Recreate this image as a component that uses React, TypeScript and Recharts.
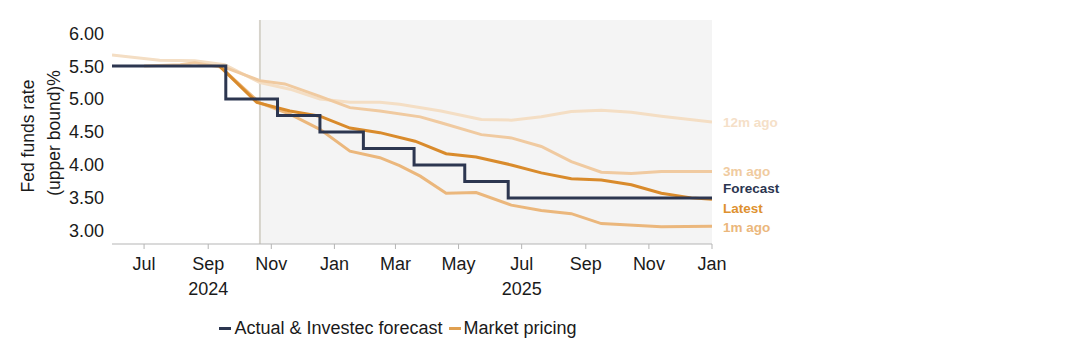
import { Line, LineChart, ReferenceArea, ReferenceLine, XAxis, YAxis } from "recharts";

const FONT = '"Liberation Sans", Arial, sans-serif';

const ts = (d: string) => Date.parse(d + "T00:00:00Z");

// axis range and forecast window
const xStart = "2024-05-31";
const xEnd = "2026-01-01";
const forecastFrom = "2024-10-21";

const monthTicks = [
  "2024-07-01", "2024-09-01", "2024-11-01", "2025-01-01", "2025-03-01",
  "2025-05-01", "2025-07-01", "2025-09-01", "2025-11-01", "2026-01-01",
];
const monthLabels = ["Jul", "Sep", "Nov", "Jan", "Mar", "May", "Jul", "Sep", "Nov", "Jan"];
const yearLabels = ["", "2024", "", "", "", "", "2025", "", "", ""];
const rateTicks = [3, 3.5, 4, 4.5, 5, 5.5, 6];

// Actual & Investec forecast (upper bound, step changes)
const forecastDates = [
  "2024-05-31", "2024-09-18", "2024-11-07", "2024-12-18", "2025-01-29",
  "2025-03-19", "2025-05-07", "2025-06-18", "2026-01-01",
];
const forecastRates = [5.5, 5.0, 4.75, 4.5, 4.25, 4.0, 3.75, 3.5, 3.5];

// Market pricing, latest
const latestDates = [
  "2024-09-12", "2024-10-18", "2024-11-19", "2024-12-18", "2025-01-16", "2025-02-14",
  "2025-03-20", "2025-04-19", "2025-05-18", "2025-06-21", "2025-07-20", "2025-08-18",
  "2025-09-16", "2025-10-15", "2025-11-13", "2025-12-12", "2026-01-01",
];
const latestRates = [5.5, 4.95, 4.82, 4.74, 4.56, 4.49, 4.36, 4.17, 4.12, 4.0, 3.88, 3.79, 3.77, 3.7, 3.57, 3.5, 3.48];

// Market pricing, 1m ago
const oneMonthDates = [
  "2024-09-12", "2024-10-21", "2024-11-19", "2024-12-18", "2025-01-16", "2025-02-14",
  "2025-03-05", "2025-03-25", "2025-04-19", "2025-05-18", "2025-06-21", "2025-07-20",
  "2025-08-18", "2025-09-16", "2025-11-13", "2026-01-01",
];
const oneMonthRates = [5.5, 4.94, 4.77, 4.54, 4.21, 4.11, 3.99, 3.83, 3.57, 3.58, 3.39, 3.31, 3.26, 3.11, 3.06, 3.07];

// Market pricing, 3m ago
const threeMonthDates = [
  "2024-07-01", "2024-08-05", "2024-08-19", "2024-09-19", "2024-10-21", "2024-11-14",
  "2024-12-18", "2025-01-16", "2025-02-14", "2025-03-25", "2025-04-14", "2025-05-23",
  "2025-06-21", "2025-07-20", "2025-08-18", "2025-09-16", "2025-10-15", "2025-11-13", "2026-01-01",
];
const threeMonthRates = [5.5, 5.52, 5.55, 5.47, 5.28, 5.23, 5.04, 4.87, 4.82, 4.73, 4.64, 4.46, 4.41, 4.28, 4.05, 3.89, 3.87, 3.9, 3.9];

// Market pricing, 12m ago
const twelveMonthDates = [
  "2024-05-31", "2024-07-16", "2024-08-19", "2024-09-17", "2024-10-21", "2024-11-19",
  "2024-12-18", "2025-01-16", "2025-02-14", "2025-03-05", "2025-04-14", "2025-05-23",
  "2025-06-21", "2025-07-20", "2025-08-18", "2025-09-16", "2025-10-15", "2025-11-13", "2026-01-01",
];
const twelveMonthRates = [5.67, 5.59, 5.58, 5.52, 5.25, 5.15, 5.0, 4.95, 4.95, 4.92, 4.82, 4.69, 4.68, 4.73, 4.81, 4.83, 4.8, 4.74, 4.65];

const toRows = (dates: string[], values: number[]) =>
  dates.map((d, i) => ({ t: ts(d), v: values[i] }));

const tickTimes = monthTicks.map(ts);

function MonthTick(props: any) {
  const { x, y, payload } = props;
  const i = tickTimes.indexOf(payload.value);
  return (
    <g>
      <text x={x} y={y} dy={19} textAnchor="middle" fill="#1a1a1a" fontSize={18} fontFamily={FONT}>
        {monthLabels[i]}
      </text>
      {yearLabels[i] ? (
        <text x={x} y={y} dy={44} textAnchor="middle" fill="#1a1a1a" fontSize={18} fontFamily={FONT}>
          {yearLabels[i]}
        </text>
      ) : null}
    </g>
  );
}

const endLabel = (text: string, color: string, lastIndex: number, shift: number) => (props: any) => {
  if (props.index !== lastIndex) return null;
  return (
    <text
      x={props.x + 11}
      y={props.y + shift}
      dominantBaseline="central"
      fill={color}
      fontSize={13.5}
      fontWeight="bold"
      fontFamily={FONT}
    >
      {text}
    </text>
  );
};

const series = [
  { name: "12m ago", rows: toRows(twelveMonthDates, twelveMonthRates), color: "#f4dec4", label: "#f5e0c8", shift: 0 },
  { name: "3m ago", rows: toRows(threeMonthDates, threeMonthRates), color: "#f0caa0", label: "#f0cb9f", shift: 0 },
  { name: "1m ago", rows: toRows(oneMonthDates, oneMonthRates), color: "#ebb77c", label: "#ebb77c", shift: 1 },
  { name: "Latest", rows: toRows(latestDates, latestRates), color: "#d98b2c", label: "#de912f", shift: 9 },
];

const forecastRows = toRows(forecastDates, forecastRates);

export default function App() {
  return (
    <div style={{ position: "absolute", left: 0, top: 0, width: 1088, height: 360, background: "#fff" }}>
      <LineChart
        width={1088}
        height={360}
        margin={{ top: 20, right: 376, bottom: 56, left: 52 }}
        style={{ fontFamily: FONT }}
      >
        <ReferenceArea x1={ts(forecastFrom)} x2={ts(xEnd)} fill="#f4f4f4" fillOpacity={1} stroke="none" />
        <ReferenceLine x={ts(forecastFrom)} stroke="#d6d3cb" strokeWidth={2} />
        <XAxis
          type="number"
          dataKey="t"
          domain={[ts(xStart), ts(xEnd)]}
          ticks={tickTimes}
          interval={0}
          allowDataOverflow
          height={60}
          tickSize={5}
          axisLine={{ stroke: "#b5b5b5" }}
          tickLine={{ stroke: "#b5b5b5" }}
          tick={<MonthTick />}
        />
        <YAxis
          type="number"
          domain={[2.8, 6.2]}
          ticks={rateTicks}
          allowDataOverflow
          width={60}
          axisLine={false}
          tickLine={false}
          tickFormatter={(v: number) => v.toFixed(2)}
          tick={{ fill: "#1a1a1a", fontSize: 18, fontFamily: FONT }}
          label={{
            content: () => (
              <g fontFamily={FONT} fontSize={17.5} fill="#1a1a1a">
                <text transform="translate(34 136) rotate(-90)" textAnchor="middle">
                  Fed funds rate
                </text>
                <text transform="translate(60 133) rotate(-90)" textAnchor="middle">
                  (upper bound)%
                </text>
              </g>
            ),
          }}
        />
        {series.map((s) => (
          <Line
            key={s.name}
            data={s.rows}
            dataKey="v"
            type="linear"
            stroke={s.color}
            strokeWidth={3}
            dot={false}
            activeDot={false}
            isAnimationActive={false}
            label={endLabel(s.name, s.label, s.rows.length - 1, s.shift)}
          />
        ))}
        <Line
          data={forecastRows}
          dataKey="v"
          type="stepAfter"
          stroke="#2c3650"
          strokeWidth={3}
          dot={false}
          activeDot={false}
          isAnimationActive={false}
          label={endLabel("Forecast", "#2b3550", forecastRows.length - 1, -9)}
        />
      </LineChart>
      <div
        style={{
          position: "absolute",
          left: 0,
          top: 317,
          width: 796,
          display: "flex",
          justifyContent: "center",
          alignItems: "center",
          fontFamily: FONT,
          fontSize: 18,
          color: "#1a1a1a",
          lineHeight: "22px",
        }}
      >
        <span style={{ display: "inline-block", width: 12, height: 3, background: "#2c3650", marginRight: 3 }} />
        <span style={{ marginRight: 6 }}>Actual &amp; Investec forecast</span>
        <span style={{ display: "inline-block", width: 12, height: 3, background: "#e0a050", marginRight: 3 }} />
        <span>Market pricing</span>
      </div>
    </div>
  );
}
